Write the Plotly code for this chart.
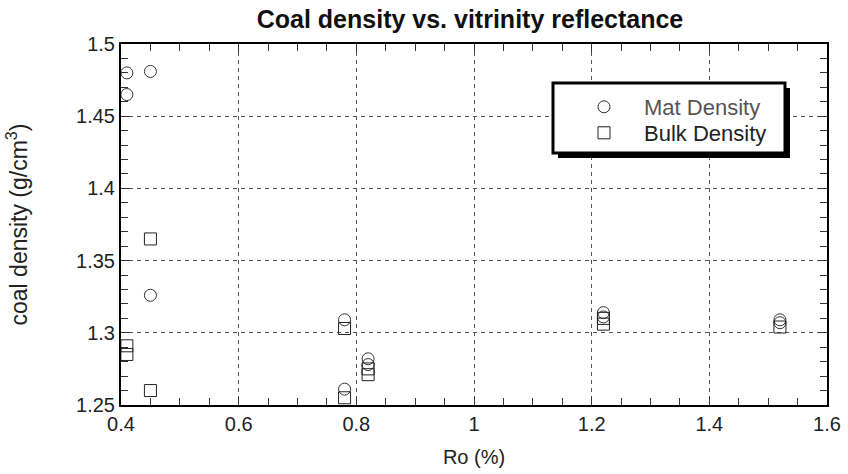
import plotly.graph_objects as go

# Vitrinite reflectance (Ro, %) and measured densities (g/cm3)
mat_ro = [0.41, 0.41, 0.45, 0.45, 0.78, 0.78, 0.82, 0.82, 1.22, 1.22, 1.52, 1.52]
mat_density = [1.480, 1.465, 1.481, 1.326, 1.309, 1.261, 1.282, 1.278, 1.314, 1.311, 1.309, 1.307]

bulk_ro = [0.41, 0.41, 0.45, 0.45, 0.78, 0.78, 0.82, 0.82, 1.22, 1.22, 1.52]
bulk_density = [1.291, 1.285, 1.365, 1.260, 1.303, 1.255, 1.275, 1.271, 1.310, 1.306, 1.304]

FONT = "Liberation Sans, Arial, sans-serif"

# plot-area geometry in pixels
L, R, T, B = 121, 827, 44, 405
PW, PH = R - L, B - T

fig = go.Figure()
fig.add_trace(go.Scatter(
    x=mat_ro, y=mat_density, mode="markers",
    name="<span style='color:#555555'>Mat Density</span>",
    marker=dict(symbol="circle-open", size=12, color="#333333", line=dict(width=1)),
    legend="legend",
))
fig.add_trace(go.Scatter(
    x=bulk_ro, y=bulk_density, mode="markers", name="Bulk Density",
    marker=dict(symbol="square-open", size=12, color="#222222", line=dict(width=1)),
    legend="legend2",
))

axis_common = dict(
    showline=True, linecolor="black", linewidth=2, mirror="allticks",
    ticks="inside", ticklen=8, tickcolor="#333333", tickwidth=1,
    showgrid=True, gridcolor="#555555", gridwidth=1, griddash="4px,4px",
    zeroline=False, automargin=False,
    tickfont=dict(family=FONT, size=20, color="#222222"),
)

fig.update_xaxes(
    range=[0.4, 1.6], tick0=0.4, dtick=0.2,
    minor=dict(dtick=0.05, ticks="inside", ticklen=7, tickcolor="#333333", showgrid=False),
    title=dict(text="Ro (%)", font=dict(family=FONT, size=20, color="#222222"), standoff=16),
    **axis_common,
)
fig.update_yaxes(
    range=[1.25, 1.5], tick0=1.25, dtick=0.05,
    minor=dict(dtick=0.01, ticks="inside", ticklen=7, tickcolor="#333333", showgrid=False),
    tickformat="~g", ticklabelstandoff=0,
    title=dict(text="coal density (g/cm<sup>3</sup>)", font=dict(family=FONT, size=23, color="#222222"), standoff=42),
    **axis_common,
)

# legend panel with drop shadow
fig.add_shape(type="rect", xref="paper", yref="paper",
              x0=(558 - L) / PW, x1=(790 - L) / PW,
              y0=(B - 158) / PH, y1=(B - 88) / PH,
              fillcolor="black", line=dict(width=0), layer="above")
fig.add_shape(type="rect", xref="paper", yref="paper",
              x0=(553 - L) / PW, x1=(785 - L) / PW,
              y0=(B - 153) / PH, y1=(B - 83) / PH,
              fillcolor="white", line=dict(color="black", width=3), layer="above")

legend_style = dict(
    xanchor="left", yanchor="top",
    bgcolor="rgba(0,0,0,0)", borderwidth=0, itemwidth=70,
    font=dict(family=FONT, size=22, color="#222222"),
)

fig.update_layout(
    width=848, height=474,
    margin=dict(l=L, r=848 - R, t=T, b=474 - B),
    paper_bgcolor="white", plot_bgcolor="white",
    title=dict(text="<b>Coal density vs. vitrinity reflectance</b>", x=470 / 848, xanchor="center",
               y=1 - 19 / 474, yanchor="middle",
               font=dict(family=FONT, size=25, color="#111111")),
    showlegend=True,
    legend=dict(x=(564 - L) / PW, y=(B - 86) / PH, **legend_style),
    legend2=dict(x=(564 - L) / PW, y=(B - 112) / PH, **legend_style),
)

fig.write_html("out.html")
